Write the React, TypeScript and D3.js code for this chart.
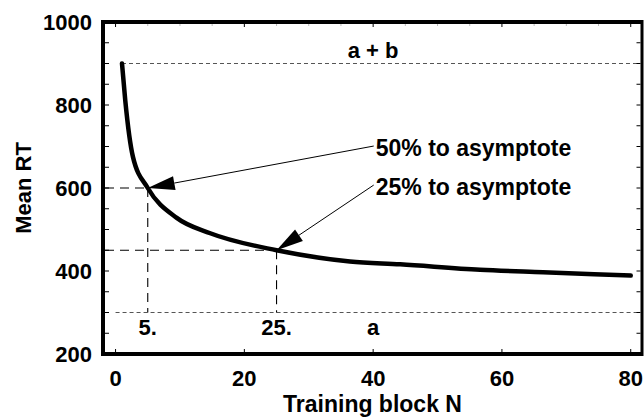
import React from 'react';
import * as d3 from 'd3';

// Curve
const blockN = [1, 1.5, 2.7, 5, 9.5, 14.7, 25, 36.4, 44.2, 56.6, 66.4, 80];
const meanRT = [900, 812, 675, 600, 528, 491, 450, 423, 416, 403, 397, 389];

const xTicks = [0, 20, 40, 60, 80];
const yTicks = [200, 400, 600, 800, 1000];
const yMinorTicks = [250, 300, 350, 400, 450, 500, 550, 600, 650, 700, 750, 800, 850, 900, 950];

const asymptoteA = 300;
const asymptoteAB = 900;
const markerN = [5, 25];
const markerRT = [600, 450];
const markerLabels = ['5.', '25.'];
const annotationTexts = ['50% to asymptote', '25% to asymptote'];
const annotationN = [40.4, 40.4];
const annotationRT = [677, 583];

const W = 644, H = 418;
const L = 103, R = 642, T = 22, B = 354;
const FONT = '"Liberation Sans", Arial, Helvetica, sans-serif';

export default function App() {
  const x = d3.scaleLinear().domain([-1.95, 81.75]).range([L, R]);
  const y = d3.scaleLinear().domain([200, 1000]).range([B, T]);
  const pts: [number, number][] = blockN.map((n, i) => [n, meanRT[i]]);
  const line = d3.line<[number, number]>().x(d => x(d[0])).y(d => y(d[1])).curve(d3.curveMonotoneX);

  const arrows = annotationTexts.map((t, i) => {
    const tx = x(markerN[i]), ty = y(markerRT[i]);
    const sx = x(annotationN[i]) - 2, sy = y(annotationRT[i]) - 10;
    const dx = sx - tx, dy = sy - ty;
    const len = Math.hypot(dx, dy);
    const ux = dx / len, uy = dy / len;
    const hl = 27, hw = 7;
    const bx = tx + ux * hl, by = ty + uy * hl;
    const p1 = [bx - uy * hw, by + ux * hw];
    const p2 = [bx + uy * hw, by - ux * hw];
    return { tx, ty, sx, sy, bx, by, poly: `${tx},${ty} ${p1[0]},${p1[1]} ${p2[0]},${p2[1]}` };
  });

  return (
    <svg width={W} height={H} style={{ position: 'absolute', left: 0, top: 0, background: '#fff' }}
      fontFamily={FONT} fontWeight="bold">
      {/* asymptote lines */}
      <line x1={x(1)} x2={R - 2} y1={y(asymptoteAB)} y2={y(asymptoteAB)} stroke="#555" strokeWidth={1} strokeDasharray="4,3" />
      <line x1={x(0)} x2={R - 2} y1={y(asymptoteA)} y2={y(asymptoteA)} stroke="#555" strokeWidth={1} strokeDasharray="4,3" />
      {/* marker dashed lines */}
      {markerN.map((n, i) => (
        <g key={i}>
          <line x1={L + 2} x2={x(n)} y1={y(markerRT[i])} y2={y(markerRT[i])} stroke="#000" strokeWidth={1.1} strokeDasharray="9,6" />
          <line x1={x(n)} x2={x(n)} y1={y(markerRT[i])} y2={y(asymptoteA)} stroke="#000" strokeWidth={1.1} strokeDasharray="9,6" />
        </g>
      ))}
      {/* curve */}
      <path d={line(pts) || ''} fill="none" stroke="#000" strokeWidth={4.5} strokeLinecap="round" strokeLinejoin="round" />
      {/* arrows */}
      {arrows.map((a, i) => (
        <g key={i}>
          <line x1={a.sx} y1={a.sy} x2={a.bx} y2={a.by} stroke="#000" strokeWidth={1} />
          <polygon points={a.poly} fill="#000" />
        </g>
      ))}
      {/* annotations */}
      {annotationTexts.map((t, i) => (
        <text key={i} x={x(annotationN[i])} y={y(annotationRT[i])} fontSize={23}>{t}</text>
      ))}
      <text x={x(40)} y={58} fontSize={22} textAnchor="middle">a + b</text>
      {markerN.map((n, i) => (
        <text key={i} x={x(n)} y={335} fontSize={22} textAnchor="middle">{markerLabels[i]}</text>
      ))}
      <text x={x(40)} y={335} fontSize={22} textAnchor="middle">a</text>
      {/* ticks */}
      {yMinorTicks.map(v => (
        <g key={v}>
          <line x1={L + 2} x2={L + 6} y1={y(v)} y2={y(v)} stroke="#000" strokeWidth={1} />
          <line x1={R - 1.5} x2={R - 5.5} y1={y(v)} y2={y(v)} stroke="#000" strokeWidth={1} />
        </g>
      ))}
      {xTicks.map(v => (
        <g key={v}>
          <line x1={x(v)} x2={x(v)} y1={B - 2} y2={B - 5} stroke="#000" strokeWidth={1} />
          <line x1={x(v)} x2={x(v)} y1={T + 2} y2={T + 5} stroke="#000" strokeWidth={1} />
        </g>
      ))}
      {d3.range(5, 80, 5).filter(v => v % 20 !== 0).map(v => (
        <line key={v} x1={x(v)} x2={x(v)} y1={T + 2} y2={T + 4} stroke="#bbb" strokeWidth={1} />
      ))}
      {/* frame */}
      <line x1={L} x2={L} y1={T - 2} y2={B + 2} stroke="#000" strokeWidth={4} />
      <line x1={L - 2} x2={R} y1={T} y2={T} stroke="#000" strokeWidth={4} />
      <line x1={L - 2} x2={R} y1={B} y2={B} stroke="#000" strokeWidth={4} />
      <line x1={R} x2={R} y1={T - 2} y2={B + 2} stroke="#000" strokeWidth={3} />
      {/* tick labels */}
      {yTicks.map(v => (
        <text key={v} x={92} y={y(v) + 8} fontSize={22} textAnchor="end">{v}</text>
      ))}
      {xTicks.map(v => (
        <text key={v} x={x(v)} y={386} fontSize={22} textAnchor="middle">{v}</text>
      ))}
      {/* axis titles */}
      <text transform={`translate(31,${(T + B) / 2}) rotate(-90)`} fontSize={22} textAnchor="middle">Mean RT</text>
      <text x={(L + R) / 2} y={412} fontSize={23} textAnchor="middle">Training block N</text>
    </svg>
  );
}
